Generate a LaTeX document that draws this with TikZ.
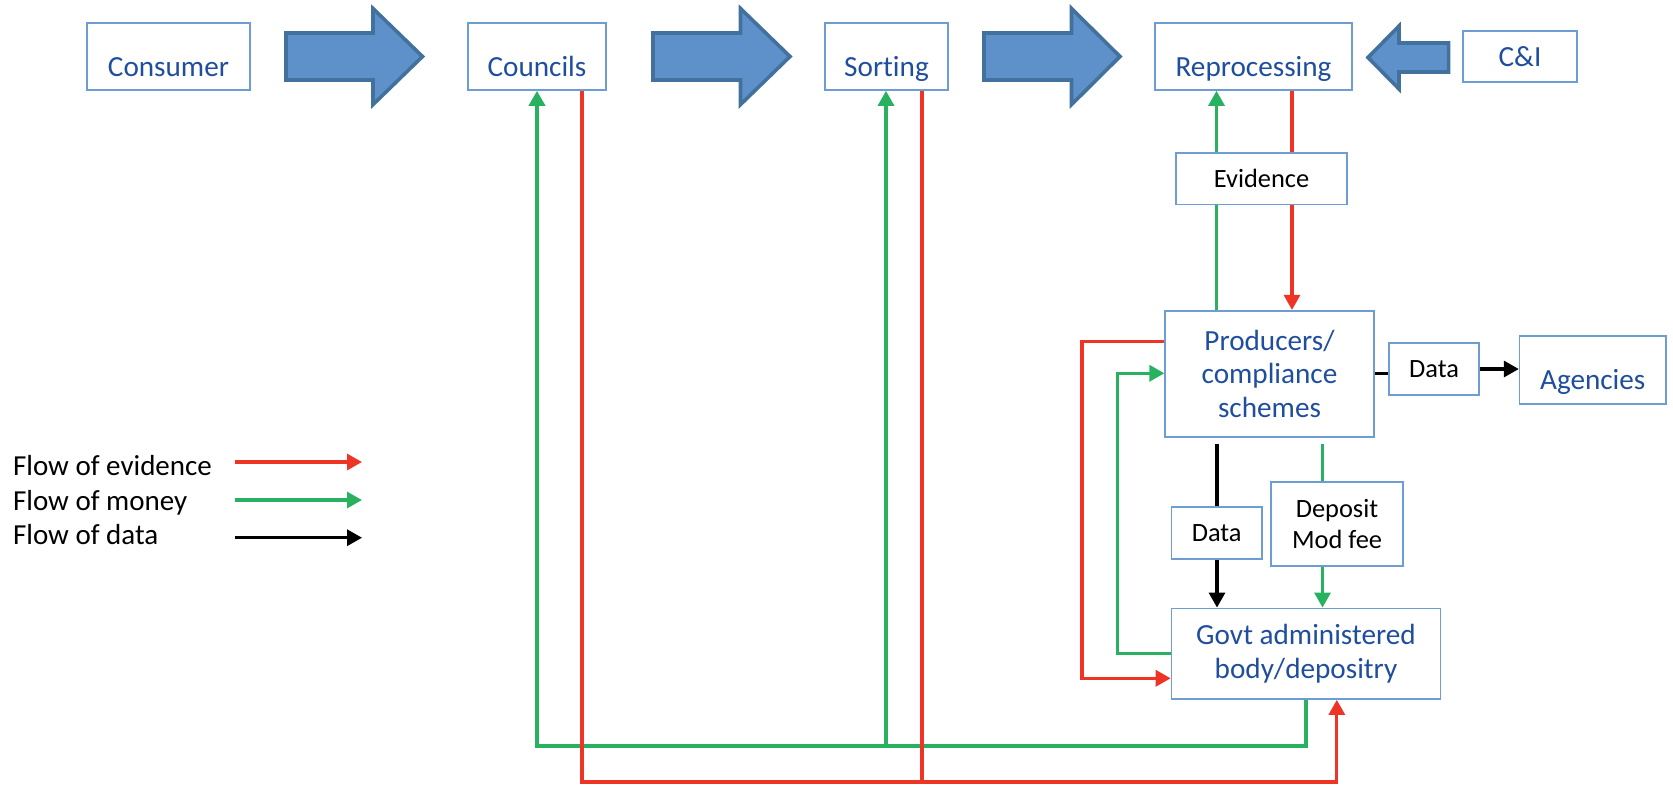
\documentclass[tikz,border=0pt]{standalone}
\usepackage{fontspec}
\setmainfont{Carlito}[Ligatures={NoCommon}]
\usetikzlibrary{arrows.meta}
\definecolor{boxline}{RGB}{110,157,211}
\definecolor{boxtext}{RGB}{32,78,158}
\definecolor{arrfill}{RGB}{94,145,201}
\definecolor{arrline}{RGB}{66,113,158}
\definecolor{evred}{RGB}{238,52,36}
\definecolor{mgreen}{RGB}{40,178,96}
\begin{document}
\begin{tikzpicture}[x=0.5pt,y=-0.5pt,
  bluebox/.style={draw=boxline, line width=0.8pt, fill=white, text=boxtext,
    font=\fontsize{14.6}{16.8}\selectfont, align=center, inner sep=0pt},
  blackbox/.style={draw=boxline, line width=0.8pt, fill=white, text=black,
    font=\fontsize{13.2}{15.3}\selectfont, align=center, inner sep=0pt},
  lowtext/.style={text height=22.5pt, text depth=3pt},
  topbox/.style={bluebox, lowtext, minimum height=33.5pt},
  blockarrow/.style={fill=arrfill, draw=arrline, line width=1.8pt, line join=miter},
  flowline/.style={line width=1.6pt},
  flow/.style={line width=1.6pt, -{Triangle[length=7.5pt,width=8pt]}},
  legendtext/.style={font=\fontsize{14.5}{17}\selectfont, anchor=base west, inner sep=0pt}
]
\useasboundingbox (0,0) rectangle (1673,784);

% top row
\node[topbox, minimum width=81.5pt] (consumer) at (168.5,56.5) {Consumer};
\node[topbox, minimum width=69.25pt] (councils) at (537,56.5) {Councils};
\node[topbox, minimum width=61.5pt] (sorting) at (886.5,56.5) {Sorting};
\node[topbox, minimum width=98.5pt] (repro) at (1253.5,56.5) {Reprocessing};
\node[bluebox, minimum width=57.25pt, minimum height=25.65pt] (ci) at (1520,56.5) {C\&I};

% block arrows
\draw[blockarrow] (286,33) -- (373,33) -- (373,8.5) -- (422.5,56.5) -- (373,104.6) -- (373,80) -- (286,80) -- cycle;
\draw[blockarrow] (653,33) -- (740.5,33) -- (740.5,8.5) -- (790,56.5) -- (740.5,104.6) -- (740.5,80) -- (653,80) -- cycle;
\draw[blockarrow] (984,33) -- (1071.5,33) -- (1071.5,8.5) -- (1120,56.5) -- (1071.5,104.6) -- (1071.5,80) -- (984,80) -- cycle;
\draw[blockarrow] (1448.6,43) -- (1399,43) -- (1399,26) -- (1368,57.5) -- (1399,89) -- (1399,72) -- (1448.6,72) -- cycle;

% middle / lower boxes
\node[blackbox, minimum width=85.25pt, minimum height=25.8pt] (evidence) at (1261.5,178.5) {Evidence};
\node[bluebox, minimum width=104.3pt, minimum height=63pt] (producers) at (1269.5,373.7) {Producers/\\compliance\\schemes};
\node[blackbox, minimum width=45.1pt, minimum height=26.15pt] (data1) at (1434,369) {Data};
\node[bluebox, lowtext, minimum width=73.1pt, minimum height=34pt] (agencies) at (1592.7,369.7) {Agencies};
\node[blackbox, minimum width=45.1pt, minimum height=26.15pt] (data2) at (1216.7,533) {Data};
\node[blackbox, minimum width=65.75pt, minimum height=42.15pt] (deposit) at (1337,524) {Deposit\\Mod fee};
\node[bluebox, minimum width=134.5pt, minimum height=45.35pt] (govt) at (1306,653.7) {Govt administered\\body/depositry};

% helper coordinates
\coordinate (cgx) at (537,0);
\coordinate (crx) at (582,0);
\coordinate (sgx) at (886,0);
\coordinate (srx) at (922,0);
\coordinate (rgx) at (1216.5,0);
\coordinate (rrx) at (1292,0);
\coordinate (gbx) at (1306.3,0);
\coordinate (rbx) at (1336.8,0);
\coordinate (gy) at (0,746);
\coordinate (ry) at (0,782);
\coordinate (lrx) at (1082,0);
\coordinate (lgx) at (1117.5,0);
\coordinate (pry) at (0,341.7);
\coordinate (gry) at (0,678.3);
\coordinate (pgy) at (0,373.3);
\coordinate (ggy) at (0,653.3);
\coordinate (bdx) at (1217,0);
\coordinate (gdx) at (1322.5,0);

% money to councils / sorting
\draw[flow, mgreen, line width=2pt, line join=miter] (govt.south -| gbx) -- (gbx |- gy) -- (cgx |- gy) -- (councils.south -| cgx);
\draw[flow, mgreen] (sgx |- gy) -- (sorting.south -| sgx);
% evidence from councils / sorting
\draw[flow, evred, line join=miter] (councils.south -| crx) -- (crx |- ry) -- (rbx |- ry) -- (govt.south -| rbx);
\draw[flowline, evred] (sorting.south -| srx) -- (srx |- ry);

% reprocessing <-> producers
\draw[flowline, mgreen] (producers.north -| rgx) -- (evidence.south -| rgx);
\draw[flow, mgreen] (evidence.north -| rgx) -- (repro.south -| rgx);
\draw[flowline, evred] (repro.south -| rrx) -- (evidence.north -| rrx);
\draw[flow, evred] (evidence.south -| rrx) -- (producers.north -| rrx);

% loops between producers and govt body
\draw[flow, evred, line join=miter] (producers.west |- pry) -- (lrx |- pry) -- (lrx |- gry) -- (govt.west |- gry);
\draw[flow, mgreen, line join=miter] (govt.west |- ggy) -- (lgx |- ggy) -- (lgx |- pgy) -- (producers.west |- pgy);

% producers down to govt body
\draw[flowline, black, shorten <=3pt] (producers.south -| bdx) -- (data2.north -| bdx);
\draw[flow, black] (data2.south -| bdx) -- (govt.north -| bdx);
\draw[flowline, mgreen, shorten <=3pt] (producers.south -| gdx) -- (deposit.north -| gdx);
\draw[flow, mgreen] (deposit.south -| gdx) -- (govt.north -| gdx);

% producers to agencies
\draw[flowline, black] (producers.east) -- (data1.west |- producers.east);
\draw[flow, black] (data1.east) -- (agencies.west |- data1.east);

% legend
\node[legendtext] (lev) at (12.7,475.7) {Flow of evidence};
\node[legendtext] (lmo) at (12.7,510.5) {Flow of money};
\node[legendtext] (lda) at (12.7,544.3) {Flow of data};
\coordinate (lev1) at (235,462);
\coordinate (lev2) at (362,462);
\coordinate (lmo1) at (235,500);
\coordinate (lmo2) at (362,500);
\coordinate (lda1) at (235,537.7);
\coordinate (lda2) at (362,537.7);
\draw[flow, evred] (lev1) -- (lev2);
\draw[flow, mgreen] (lmo1) -- (lmo2);
\draw[flow, black] (lda1) -- (lda2);
\end{tikzpicture}
\end{document}
